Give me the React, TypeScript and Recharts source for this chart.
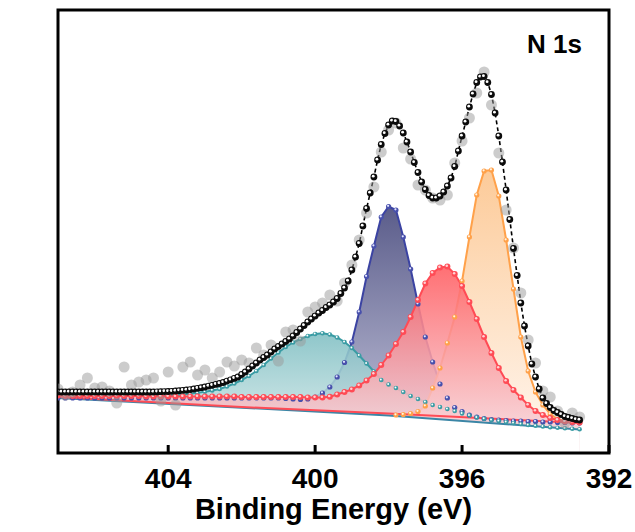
import { Area, ComposedChart, Label, Line, ReferenceArea, XAxis, YAxis } from "recharts";

const FONT = "'Liberation Sans', Arial, Helvetica, sans-serif";

// binding energy runs from 407 eV downwards; envelope sampled every 0.1 eV,
// raw counts and fitted components every 0.2 eV
const E_START = 407;
const ENVELOPE_STEP = 0.1;
const COMPONENT_STEP = 0.2;

const energyTicks = [404, 400, 396, 392];

const envelope = [
  61, 61, 61, 61, 61, 61, 61, 61, 61, 61, 61, 61, 61, 61, 61, 61, 61, 61, 61, 61, 61, 61, 61, 61, 61, 61, 61,
  61.2, 61.3, 61.4, 61.5, 61.7, 62, 62.3, 62.7, 63, 63.4,
  64, 64.7, 65.3, 66, 66.9, 67.7, 68.6, 69.5, 70.5, 71.9, 73.2, 74.6,
  76, 78.5, 81, 84, 87, 90, 93, 95.5, 98, 101, 104, 106.5, 109, 111.5, 114, 117, 120.5, 124, 127.5, 131,
  134, 137, 140, 142.5, 145.5, 148, 151, 154.5, 159.5, 165, 172, 183, 196, 209.5, 227, 244.5, 260, 276,
  293, 308.5, 319.5, 328, 332, 331.5, 327, 320, 311, 301, 290.5, 280.5, 271, 263.5, 257.5, 255, 255, 257,
  261, 267, 275, 286.5, 302, 317, 331, 346, 359, 370.5, 376, 376.5, 370.5, 358.5, 340, 317, 291, 263,
  233.5, 204.5, 177.5, 150, 127, 107, 89, 76, 64, 55, 49.5, 45.5, 42.5, 40.5, 38.5, 36.5, 35.5, 34.5,
  33.5, 33
];

const rawCounts = [
  64, 58, 61, 68, 75, 65, 66, 62, 50, 86, 68, 71, 73, 75, 52, 81, 48, 86, 91, 78,
  83, 75, 81, 91, 87, 93, 90, 105, 98, 108, 92, 121, 123, 112, 141, 146, 150, 158, 152, 170,
  188, 213, 240, 266, 301, 323, 330, 305, 294, 268, 263, 255, 253, 258, 290, 312, 335, 360, 381, 348,
  300, 243, 205, 160, 113, 90, 62, 56, 42, 30, 40, 36
];

// fitted components (including their background); null where a component is not plotted
const fit400 = [
  58, 57.5, 57, 57, 57, 57, 57, 57, 57, 57, 57, 57, 57, 57, 57, 57.3, 57.7, 58.4, 59.2, 60.2,
  61.3, 62.6, 64, 66.5, 69.5, 73, 77, 82, 88, 94.5, 100.5, 106, 110.5, 114, 117, 119, 119.7, 118.5, 115.5, 111,
  105, 97.5, 89.5, 81.5, 73, 68.5, 65, 61, 57, 54, 51, 48, 46, 44, 42, 39.5, 37.5, 35.5, 34.2, 33,
  32, 31, 30, 29, 28, 27.2, 26.5, 25.8, 25.2, 24.7, 24.2, 23.8
];

const fit398 = [
  55, 55, 55, 55, 55, 55, 55, 55, 55, 55, 55, 55, 55, 55, 55, 55, 55, 55, 55, 55,
  55, 55, 55, 55, 55, 55, 55, 55, 55, 55, 55, 54.5, 54, 53.5, 54, 56, 60, 66, 76, 90.5,
  111, 141, 176.5, 207, 236, 246.5, 243, 216, 184, 149, 116, 91, 69, 55, 45.5, 41.5, 38, 36, 34.5, 33.5,
  33, 32.5, 32, 32, 31.5, 31.5, 31, 31, 30.5, 30.5, 30, 30
];

const fit396 = [
  57.5, 57, 57, 57, 57, 57, 57, 57, 57, 57, 57, 57, 56.5, 56.5, 56.5, 56.5, 56.5, 56.5, 56.5, 56.5,
  56.5, 56.5, 56.5, 56.5, 56.5, 56, 56, 56, 56, 56, 56, 56, 56, 56, 55.5, 55.5, 55.5, 56.3, 58.5, 61,
  63.5, 67.5, 72.5, 79, 88, 97.5, 109, 121, 136, 153, 169.5, 180, 185.5, 186.5, 179, 167, 151, 134, 116, 100,
  85, 72, 63, 55.5, 48, 42, 38, 35, 33, 31.5, 31, 30.5
];

const fit395 = [
  null, null, null, null, null, null, null, null, null, null, null, null, null, null, null, null, null, null, null, null,
  null, null, null, null, null, null, null, null, null, null, null, null, null, null, null, null, null, null, null, null,
  null, null, null, null, null, null, 38, 38.5, 39.5, 41.5, 47, 65, 85, 110, 136, 172, 216, 258, 282, 283,
  257, 213, 164, 116, 82, 61, 48, 39, 34, 32, 31, 30.5
];

// straight lower edges of the filled components
const baselineEnergy = [407, 402, 398, 392.8];
const baselineUpper = [56, 46, 39.5, 30];
const baselineLower = [55, 45.3, 37.5, 23.5];

type Pt = { x: number; y: number | null };

const sampled = (values: (number | null)[], step: number): Pt[] =>
  values.map((y, i) => ({ x: +(E_START - i * step).toFixed(2), y }));
const paired = (values: number[]): Pt[] => values.map((y, i) => ({ x: baselineEnergy[i], y }));

const envelopeData = sampled(envelope, ENVELOPE_STEP);
const rawData = sampled(rawCounts, COMPONENT_STEP);
const upperLine = paired(baselineUpper);
const lowerLine = paired(baselineLower);

// drawn bottom to top
const components = [
  { id: "c398", values: fit398, stroke: "#3b43a2", bead: "#4850ac", core: "#e3e6ff", r: 2.6,
    stops: [["0", "#5a5c8a", 1], ["0.8", "#aeafcb", 0.95], ["1", "#c6c6da", 0.9]] },
  { id: "c400", values: fit400, stroke: "#3a9ca4", bead: "#3a9ca4", core: "#ffffff", r: 2.3,
    stops: [["0", "#82c0c4", 0.9], ["0.65", "#c0dfe0", 0.86], ["1", "#d8ecec", 0.85]] },
  { id: "c395", values: fit395, stroke: "#ffa14a", bead: "#ffa14a", core: "#fff3e2", r: 2.6,
    stops: [["0", "#fcc690", 0.92], ["0.88", "#fff0e3", 0.88], ["1", "#fff5ee", 0.88]] },
  { id: "c396", values: fit396, stroke: "#ff4b55", bead: "#ff4b55", core: "#ffd0d3", r: 3,
    stops: [["0", "#ff6064", 0.9], ["0.83", "#f7cbd2", 0.86], ["1", "#fbe0e4", 0.85]] }
];

function bead(fill: string, core: string, r: number) {
  return (props: any) => {
    const { cx, cy, index, value } = props;
    if (cx == null || cy == null || value == null || Number.isNaN(cy)) return <g key={`b-${index}`} />;
    return (
      <g key={`b-${index}`}>
        <circle cx={cx} cy={cy} r={r} fill={fill} />
        <circle cx={cx - r * 0.2} cy={cy - r * 0.25} r={r * 0.42} fill={core} />
      </g>
    );
  };
}

function rawDot(props: any) {
  const { cx, cy, index } = props;
  if (cx == null || cy == null) return <g key={`r-${index}`} />;
  return <circle key={`r-${index}`} cx={cx} cy={cy} r={5.5} fill="#9a9a9a" fillOpacity={0.5} />;
}

function EnergyTick({ x, y, payload }: any) {
  return (
    <g>
      <line x1={x} x2={x} y1={y} y2={y - 8} stroke="#000" strokeWidth={3} />
      <text x={x} y={y + 35} textAnchor="middle" fontFamily={FONT} fontWeight={700} fontSize={28} fill="#000">
        {payload.value}
      </text>
    </g>
  );
}

export default function App() {
  return (
    <div style={{ position: "absolute", left: 0, top: 0, background: "#fff" }}>
      <ComposedChart width={635} height={532} margin={{ top: 10, right: 26, left: 58, bottom: 0 }}>
        <defs>
          {components.map((c) => (
            <linearGradient key={c.id} id={`grad-${c.id}`} x1="0" y1="0" x2="0" y2="1">
              {c.stops.map(([offset, color, opacity]) => (
                <stop key={String(offset)} offset={String(offset)} stopColor={String(color)} stopOpacity={Number(opacity)} />
              ))}
            </linearGradient>
          ))}
        </defs>
        <XAxis
          type="number"
          dataKey="x"
          domain={[392, 407]}
          reversed
          ticks={energyTicks}
          interval={0}
          height={79}
          tickSize={0}
          tickMargin={0}
          tickLine={false}
          axisLine={false}
          tick={<EnergyTick />}
          allowDataOverflow
        >
          <Label
            content={({ viewBox }: any) => (
              <text
                x={viewBox.x + viewBox.width / 2}
                y={viewBox.y + 66}
                textAnchor="middle"
                fontFamily={FONT}
                fontWeight={700}
                fontSize={29}
                fill="#000"
              >
                Binding Energy (eV)
              </text>
            )}
          />
        </XAxis>
        <YAxis type="number" domain={[0, 443]} width={0} tick={false} tickLine={false} axisLine={false} allowDataOverflow>
          <Label
            content={({ viewBox }: any) => {
              const cx = viewBox.x - 22;
              const cy = viewBox.y + viewBox.height / 2 - 5;
              return (
                <text
                  x={cx}
                  y={cy}
                  transform={`rotate(-90, ${cx}, ${cy})`}
                  textAnchor="middle"
                  fontFamily={FONT}
                  fontWeight={700}
                  fontSize={29}
                  fill="#000"
                >
                  Intensity (a. u.)
                </text>
              );
            }}
          />
        </YAxis>

        {components.map((c) => (
          <Area
            key={c.id}
            data={sampled(c.values, COMPONENT_STEP)}
            dataKey="y"
            type="linear"
            baseValue={0}
            stroke={c.stroke}
            strokeWidth={2}
            fill={`url(#grad-${c.id})`}
            fillOpacity={1}
            dot={bead(c.bead, c.core, c.r)}
            activeDot={false}
            isAnimationActive={false}
          />
        ))}

        {/* blank out everything below the lower baseline */}
        <Area
          data={lowerLine}
          dataKey="y"
          type="linear"
          baseValue={0}
          stroke="none"
          fill="#fff"
          fillOpacity={1}
          dot={false}
          activeDot={false}
          isAnimationActive={false}
        />
        <Line data={lowerLine} dataKey="y" type="linear" stroke="#3b86a6" strokeWidth={2} dot={false} activeDot={false} isAnimationActive={false} />
        <Line data={upperLine} dataKey="y" type="linear" stroke="#ff4b55" strokeWidth={2} dot={false} activeDot={false} isAnimationActive={false} />

        <Line data={rawData} dataKey="y" stroke="none" dot={rawDot} activeDot={false} isAnimationActive={false} />
        <Line
          data={envelopeData}
          dataKey="y"
          type="linear"
          stroke="#000"
          strokeWidth={1.6}
          strokeDasharray="4 3"
          dot={bead("#0b0b0b", "#ffffff", 3.4)}
          activeDot={false}
          isAnimationActive={false}
        />

        <ReferenceArea x1={407} x2={392} y1={0} y2={443} fill="none" stroke="#000" strokeWidth={3} ifOverflow="visible">
          <Label
            content={({ viewBox }: any) => (
              <text
                x={viewBox.x + viewBox.width - 27}
                y={viewBox.y + 43}
                textAnchor="end"
                fontFamily={FONT}
                fontWeight={700}
                fontSize={26}
                fill="#000"
              >
                N 1s
              </text>
            )}
          />
        </ReferenceArea>
      </ComposedChart>
    </div>
  );
}
